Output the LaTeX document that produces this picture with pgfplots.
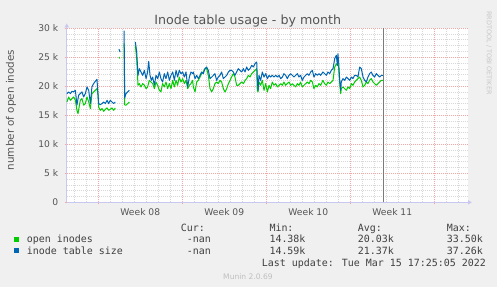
\documentclass[border=0pt]{standalone}
\usepackage{pgfplots}
\pgfplotsset{compat=1.18}
\usepackage{fontspec}
\setmainfont{DejaVu Sans}
\newfontfamily\mono{DejaVu Sans Mono}
\usetikzlibrary{arrows.meta}
\definecolor{munGreen}{HTML}{00CC00}
\definecolor{munBlue}{HTML}{0066B3}
\definecolor{bgGray}{HTML}{F0F0F0}
\definecolor{txtGray}{HTML}{555555}
\definecolor{legGray}{HTML}{404040}
\definecolor{mgrid}{HTML}{F0A8A8}
\definecolor{ngrid}{HTML}{D8D8D8}
\definecolor{axisC}{HTML}{C8C8F0}
\definecolor{nowC}{HTML}{7A7A7A}
\begin{document}
\begin{tikzpicture}[x=1bp,y=1bp]
\useasboundingbox (0,0) rectangle (497,287);
\fill[bgGray] (0,0) rectangle (497,287);
\begin{axis}[
  at={(66.7bp,84.7bp)}, anchor=south west,
  scale only axis, width=401.3bp, height=174bp,
  xmin=-2.633, xmax=30.81, ymin=0, ymax=30,
  axis background/.style={fill=white},
  axis lines=left,
  axis line style={draw=axisC, line width=0.8bp},
  every outer x axis line/.append style={-{Latex[length=4bp,width=5bp]}, shorten >=-4bp},
  every outer y axis line/.append style={-{Latex[length=4bp,width=5bp]}, shorten >=-5bp},
  xtick={0,7,14,21,28}, xticklabels={},
  minor xtick={-2,-1,1,2,3,4,5,6,8,9,10,11,12,13,15,16,17,18,19,20,22,23,24,25,26,27,29,30},
  extra x ticks={3.5,10.5,17.5,24.5},
  extra x tick labels={Week 08,Week 09,Week 10,Week 11},
  extra x tick style={grid=none, major tick length=0pt},
  ytick={0,5,...,30}, yticklabels={0,5 k,10 k,15 k,20 k,25 k,30 k},
  minor y tick num=4,
  grid=both,
  major grid style={draw=mgrid, dash pattern=on 1bp off 1bp, line width=0.8bp},
  minor grid style={draw=ngrid, dash pattern=on 1bp off 1bp, line width=0.8bp},
  tick align=outside, major tick length=2bp, minor tick length=0pt,
  major tick style={draw=mgrid, line width=0.8bp},
  xticklabel style={font=\fontsize{9.2}{11}\selectfont, text=txtGray, yshift=-3bp},
  yticklabel style={font=\fontsize{9.2}{11}\selectfont, text=txtGray, xshift=-3bp},
  unbounded coords=jump,
]
\addplot[draw=munGreen, line width=1bp, line join=round] coordinates {
(-2.61,17.30) (-2.47,18.16) (-2.33,17.59) (-2.19,17.88) (-2.05,18.16) (-1.91,17.59) (-1.78,15.86) (-1.69,15.29) (-1.50,17.59) (-1.36,17.88) (-1.22,16.73) (-1.08,17.02) (-0.94,18.16) (-0.80,17.30) (-0.66,16.15) (-0.53,18.74) (-0.39,19.03) (-0.25,19.31) (-0.11,19.60) (-0.03,18.74) (0.03,16.44) (0.17,15.86) (0.31,16.15) (0.45,15.69) (0.59,16.04) (0.73,16.27) (0.86,15.86) (1.00,16.04) (1.14,16.27) (1.28,15.86) (1.42,16.27) (1.55,nan) (1.72,25.05) (1.80,24.80) (1.95,nan) (2.15,27.40) (2.20,16.80) (2.31,16.73) (2.45,17.02) (2.59,17.30) (2.80,nan)
(3.09,27.06) (3.20,24.76) (3.31,20.17) (3.42,20.46) (3.56,19.89) (3.70,20.46) (3.84,20.17) (3.98,19.60) (4.11,19.89) (4.25,21.03) (4.39,20.74) (4.53,20.46) (4.67,19.60) (4.81,20.74) (4.95,20.17) (5.09,19.31) (5.22,19.03) (5.36,20.46) (5.50,19.89) (5.64,20.74) (5.78,19.60) (5.92,20.46) (6.06,19.60) (6.20,21.03) (6.34,19.89) (6.48,21.03) (6.61,20.17) (6.75,21.60) (6.89,20.74) (7.03,21.32) (7.17,20.46) (7.31,21.03) (7.45,19.60) (7.59,20.17) (7.72,20.46) (7.86,21.03)
(7.92,19.89) (8.06,19.03) (8.20,20.74) (8.34,21.03) (8.48,21.60) (8.61,22.18) (8.75,22.47) (8.89,23.04) (9.03,23.04) (9.17,21.89) (9.31,19.60) (9.45,19.03) (9.59,19.60) (9.72,20.46) (9.86,20.74) (10.00,20.46) (10.14,21.03) (10.28,20.74) (10.42,19.60) (10.56,19.03) (10.70,19.60) (10.84,20.46) (10.98,21.03) (11.11,21.60) (11.25,22.18) (11.39,21.60) (11.53,20.17) (11.67,20.17) (11.81,20.46) (11.95,20.74) (12.09,20.46) (12.23,21.03) (12.36,21.32) (12.50,21.89) (12.64,21.60) (12.78,22.18) (12.92,22.47) (13.06,22.75) (13.20,23.04)
(13.25,19.31) (13.31,19.03) (13.39,20.74) (13.53,20.17) (13.67,21.03) (13.81,19.31) (13.95,20.46) (14.09,19.03) (14.23,20.17) (14.36,19.60) (14.50,20.74) (14.64,20.17) (14.78,20.46) (14.92,19.89) (15.06,20.17) (15.20,20.46) (15.34,20.17) (15.47,20.74) (15.61,20.17) (15.75,20.46) (15.89,20.74) (16.03,20.17) (16.17,20.46) (16.31,20.17) (16.45,19.89) (16.59,20.46) (16.72,20.17) (16.86,20.74) (17.00,19.89) (17.14,20.17) (17.28,20.46) (17.42,20.74) (17.56,20.46) (17.70,21.03) (17.84,20.74) (17.97,19.60) (18.11,20.17) (18.25,19.89) (18.39,20.46) (18.53,20.17)
(18.72,21.03) (18.86,20.46) (19.00,20.17) (19.14,20.74) (19.28,20.46) (19.42,20.74) (19.56,21.03) (19.70,23.33) (19.84,23.90) (19.92,23.61) (19.97,24.19) (20.03,23.04) (20.11,20.74) (20.20,18.74) (20.25,19.60) (20.39,19.89) (20.53,19.60) (20.67,19.31) (20.81,19.89) (20.95,19.60) (21.09,20.46) (21.22,20.17) (21.36,20.74) (21.50,21.03) (21.64,21.32) (21.78,21.60) (21.92,21.03) (22.06,19.89) (22.20,20.17) (22.34,20.74) (22.47,20.46) (22.61,21.03) (22.75,21.32) (22.89,20.74) (23.03,20.46) (23.17,20.17) (23.31,20.46) (23.45,20.74) (23.59,21.03) (23.72,21.03)
};
\addplot[draw=munBlue, line width=1bp, line join=round] coordinates {
(-2.61,18.74) (-2.47,19.03) (-2.33,18.74) (-2.19,19.14) (-2.05,19.03) (-1.91,19.31) (-1.78,16.73) (-1.64,18.45) (-1.50,18.74) (-1.36,19.03) (-1.22,18.16) (-1.08,18.74) (-0.94,19.89) (-0.80,19.31) (-0.66,17.02) (-0.53,19.89) (-0.39,20.46) (-0.25,20.86) (-0.11,21.20) (-0.03,18.74) (0.03,17.02) (0.17,16.84) (0.31,17.02) (0.45,17.30) (0.59,17.02) (0.73,17.59) (0.86,17.02) (1.00,17.59) (1.14,17.30) (1.28,17.02) (1.42,17.30) (1.55,nan) (1.72,26.40) (1.82,25.90) (1.95,nan) (2.15,29.60) (2.20,18.00) (2.31,18.74) (2.45,19.03) (2.59,19.31) (2.80,nan)
(3.09,27.64) (3.20,25.92) (3.31,21.89) (3.42,23.04) (3.56,22.47) (3.70,21.89) (3.84,22.75) (3.98,21.32) (4.11,22.47) (4.20,24.30) (4.31,21.89) (4.42,21.03) (4.53,21.60) (4.67,20.17) (4.81,21.89) (4.95,21.32) (5.09,22.47) (5.22,21.32) (5.36,20.74) (5.50,22.18) (5.64,21.32) (5.78,22.47) (5.92,21.03) (6.06,21.89) (6.20,22.47) (6.34,21.03) (6.48,22.75) (6.61,21.60) (6.75,22.75) (6.89,22.18) (7.03,22.47) (7.17,21.60) (7.31,22.47) (7.45,19.89) (7.59,21.60) (7.72,22.47) (7.86,22.18)
(7.92,22.47) (8.06,21.32) (8.20,21.89) (8.34,21.32) (8.48,21.89) (8.61,22.47) (8.75,22.18) (8.89,23.04) (9.03,23.33) (9.17,22.75) (9.31,21.32) (9.45,21.60) (9.59,21.89) (9.72,22.18) (9.86,21.03) (10.00,21.60) (10.14,21.89) (10.28,22.47) (10.42,21.32) (10.56,21.60) (10.70,21.89) (10.84,22.47) (10.98,22.75) (11.11,22.75) (11.25,22.47) (11.39,21.89) (11.53,22.47) (11.67,23.04) (11.81,22.75) (11.95,22.47) (12.09,23.04) (12.23,22.47) (12.36,23.33) (12.50,22.75) (12.64,23.04) (12.78,23.61) (12.92,23.33) (13.06,23.90) (13.20,24.19)
(13.25,21.32) (13.31,19.31) (13.39,21.89) (13.53,21.03) (13.67,22.47) (13.81,21.60) (13.95,22.18) (14.09,21.32) (14.23,21.89) (14.36,21.60) (14.50,21.89) (14.64,21.60) (14.78,21.89) (14.92,21.60) (15.06,21.89) (15.20,21.32) (15.34,21.60) (15.47,22.18) (15.61,21.89) (15.75,21.32) (15.89,21.89) (16.03,22.18) (16.17,21.89) (16.31,21.60) (16.45,21.89) (16.59,22.18) (16.72,21.60) (16.86,21.89) (17.00,21.03) (17.14,21.60) (17.28,21.89) (17.42,22.18) (17.56,21.89) (17.70,22.47) (17.84,22.75) (17.97,21.60) (18.11,22.18) (18.25,21.89) (18.39,22.18) (18.53,21.89)
(18.72,22.47) (18.86,22.18) (19.00,21.89) (19.14,22.47) (19.28,22.18) (19.42,22.75) (19.56,23.04) (19.70,24.76) (19.84,25.34) (19.92,23.61) (19.97,25.60) (20.03,24.19) (20.11,21.32) (20.20,19.31) (20.25,20.74) (20.39,21.32) (20.53,21.03) (20.67,21.60) (20.81,21.32) (20.95,21.03) (21.09,21.60) (21.22,21.32) (21.36,21.89) (21.50,21.89) (21.64,21.60) (21.78,23.33) (21.92,23.04) (22.06,21.60) (22.20,21.03) (22.34,20.74) (22.47,21.60) (22.61,22.18) (22.75,22.47) (22.89,21.89) (23.03,21.60) (23.17,22.18) (23.31,21.89) (23.45,21.60) (23.59,21.89) (23.72,21.89)
};
\addplot[draw=nowC, line width=1bp] coordinates {(23.75,0) (23.75,30)};
\end{axis}
\node[anchor=base, font=\fontsize{12.7}{15}\selectfont, text=txtGray, inner sep=0pt] at (247.7,263) {Inode table usage - by month};
\node[rotate=90, font=\fontsize{10.4}{12}\selectfont, text=txtGray, inner sep=0pt] at (11,177) {number of open inodes};
\node[rotate=-90, font=\fontsize{6.5}{8}\selectfont, text=black!22, inner sep=0pt] at (489,234) {RRDTOOL / TOBI OETIKER};
\begin{scope}[every node/.style={anchor=base west, inner sep=0pt, font=\mono\fontsize{10}{12}\selectfont, text=legGray}]
\node at (180.7,55.3) {Cur:};
\node at (269.3,55.3) {Min:};
\node at (357.7,55.3) {Avg:};
\node at (446.7,55.3) {Max:};
\fill[munGreen] (14,45) rectangle (19,50);
\node at (26.7,44.5) {open inodes};
\node at (186.7,44.5) {-nan};
\node at (269.3,44.5) {14.38k};
\node at (357.7,44.5) {20.03k};
\node at (446.7,44.5) {33.50k};
\fill[munBlue] (14,34) rectangle (19,39);
\node at (26.7,33) {inode table size};
\node at (186.7,33) {-nan};
\node at (269.3,33) {14.59k};
\node at (357.7,33) {21.37k};
\node at (446.7,33) {37.26k};
\node at (261.7,20.3) {Last update: Tue Mar 15 17:25:05 2022};
\end{scope}
\node[font=\fontsize{7.6}{9}\selectfont, text=black!25, inner sep=0pt] at (248,10) {Munin 2.0.69};
\end{tikzpicture}
\end{document}
